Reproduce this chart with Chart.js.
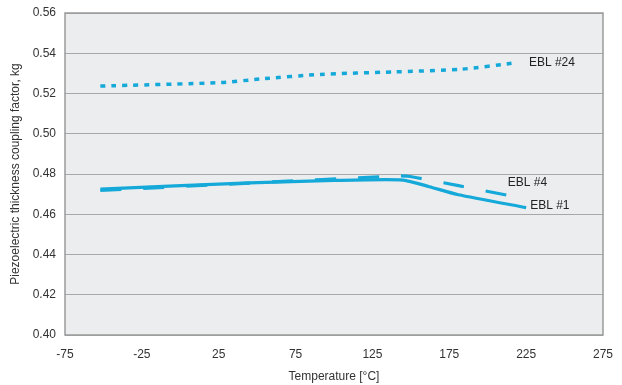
<!DOCTYPE html>
<html>
<head>
<meta charset="utf-8">
<script src="https://cdn.jsdelivr.net/npm/chart.js@4"></script>
<style>
  body { margin: 0; background: #fff; }
  #chart { display: block; }
</style>
</head>
<body>
<canvas id="chart" width="622" height="385"></canvas>
<script>
// Data (temperature in °C, kg factor)
const ebl24Temp = [-52, 26, 52, 91, 138, 182, 219];
const ebl24Val = [0.5237, 0.5254, 0.5272, 0.5295, 0.5307, 0.5320, 0.5353];

const ebl4Temp = [-52, 45, 140, 148, 181, 215];
const ebl4Val = [0.4718, 0.4755, 0.4790, 0.4789, 0.4742, 0.4691];

const ebl1Temp = [-52, 45, 100, 145, 162, 181, 225];
const ebl1Val = [0.4725, 0.4756, 0.4768, 0.4770, 0.4737, 0.4697, 0.4633];

const seriesNames = ['EBL #24', 'EBL #4', 'EBL #1'];
const xTicks = [-75, -25, 25, 75, 125, 175, 225, 275];
const yTicks = [0.40, 0.42, 0.44, 0.46, 0.48, 0.50, 0.52, 0.54, 0.56];

const lineColor = '#14a9d9';
const font = "'Liberation Sans', Arial, sans-serif";

function toPoints(xs, ys) {
    return xs.map((x, i) => ({ x: x, y: ys[i] }));
}

// label offset from the last point of each series
const labelOffsets = [
    { dx: 12, dy: 0 },
    { dx: -3, dy: -13 },
    { dx: 4, dy: -2 }
];

const plotFrame = {
    id: 'plotFrame',
    beforeDraw(chart) {
        const { ctx, chartArea: a } = chart;
        ctx.save();
        ctx.fillStyle = '#ecedef';
        ctx.fillRect(a.left, a.top, a.right - a.left, a.bottom - a.top);
        ctx.restore();
    },
    afterDatasetsDraw(chart) {
        const { ctx, chartArea: a } = chart;
        ctx.save();
        ctx.strokeStyle = '#9a9a9a';
        ctx.lineWidth = 1.5;
        ctx.strokeRect(a.left, a.top, a.right - a.left, a.bottom - a.top);

        ctx.font = '12px ' + font;
        ctx.fillStyle = '#222';
        ctx.textAlign = 'left';
        ctx.textBaseline = 'middle';
        chart.data.datasets.forEach((ds, i) => {
            const pts = chart.getDatasetMeta(i).data;
            const last = pts[pts.length - 1];
            ctx.fillText(seriesNames[i], last.x + labelOffsets[i].dx, last.y + labelOffsets[i].dy);
        });
        ctx.restore();
    }
};

new Chart(document.getElementById('chart'), {
    type: 'line',
    data: {
        datasets: [
            { label: seriesNames[0], data: toPoints(ebl24Temp, ebl24Val), borderColor: lineColor, borderWidth: 3.5, borderDash: [5, 6], pointRadius: 0, tension: 0.2, fill: false },
            { label: seriesNames[1], data: toPoints(ebl4Temp, ebl4Val), borderColor: lineColor, borderWidth: 3.2, borderDash: [21, 22], pointRadius: 0, tension: 0.15, fill: false },
            { label: seriesNames[2], data: toPoints(ebl1Temp, ebl1Val), borderColor: lineColor, borderWidth: 3.2, pointRadius: 0, tension: 0.2, fill: false }
        ]
    },
    options: {
        responsive: false,
        animation: false,
        devicePixelRatio: 1,
        layout: { padding: { top: 13, right: 19, left: 0, bottom: 0 } },
        plugins: { legend: { display: false }, tooltip: { enabled: false } },
        scales: {
            x: {
                type: 'linear',
                min: xTicks[0],
                max: xTicks[xTicks.length - 1],
                afterBuildTicks: (s) => { s.ticks = xTicks.map(v => ({ value: v })); },
                afterFit: (s) => { s.height = 50; s.paddingLeft = 0; s.paddingRight = 0; },
                grid: { display: false, drawTicks: false },
                border: { display: false },
                ticks: { color: '#333', padding: 12, font: { family: font, size: 12 }, callback: (v) => String(v) },
                title: { display: true, text: 'Temperature [°C]', color: '#333', padding: { top: 0, bottom: 1 }, font: { family: font, size: 12 } }
            },
            y: {
                min: yTicks[0],
                max: yTicks[yTicks.length - 1],
                afterBuildTicks: (s) => { s.ticks = yTicks.map(v => ({ value: v })); },
                afterFit: (s) => { s.width = 65; s.paddingTop = 0; s.paddingBottom = 0; },
                grid: { color: '#a8a8a8', lineWidth: 1, drawTicks: false },
                border: { display: false },
                ticks: { color: '#333', padding: 9, font: { family: font, size: 12 }, callback: (v) => v.toFixed(2) },
                title: { display: true, text: 'Piezoelectric thickness coupling factor, kg', color: '#333', padding: { top: 8, bottom: 0 }, font: { family: font, size: 12 } }
            }
        }
    },
    plugins: [plotFrame]
});
</script>
</body>
</html>
